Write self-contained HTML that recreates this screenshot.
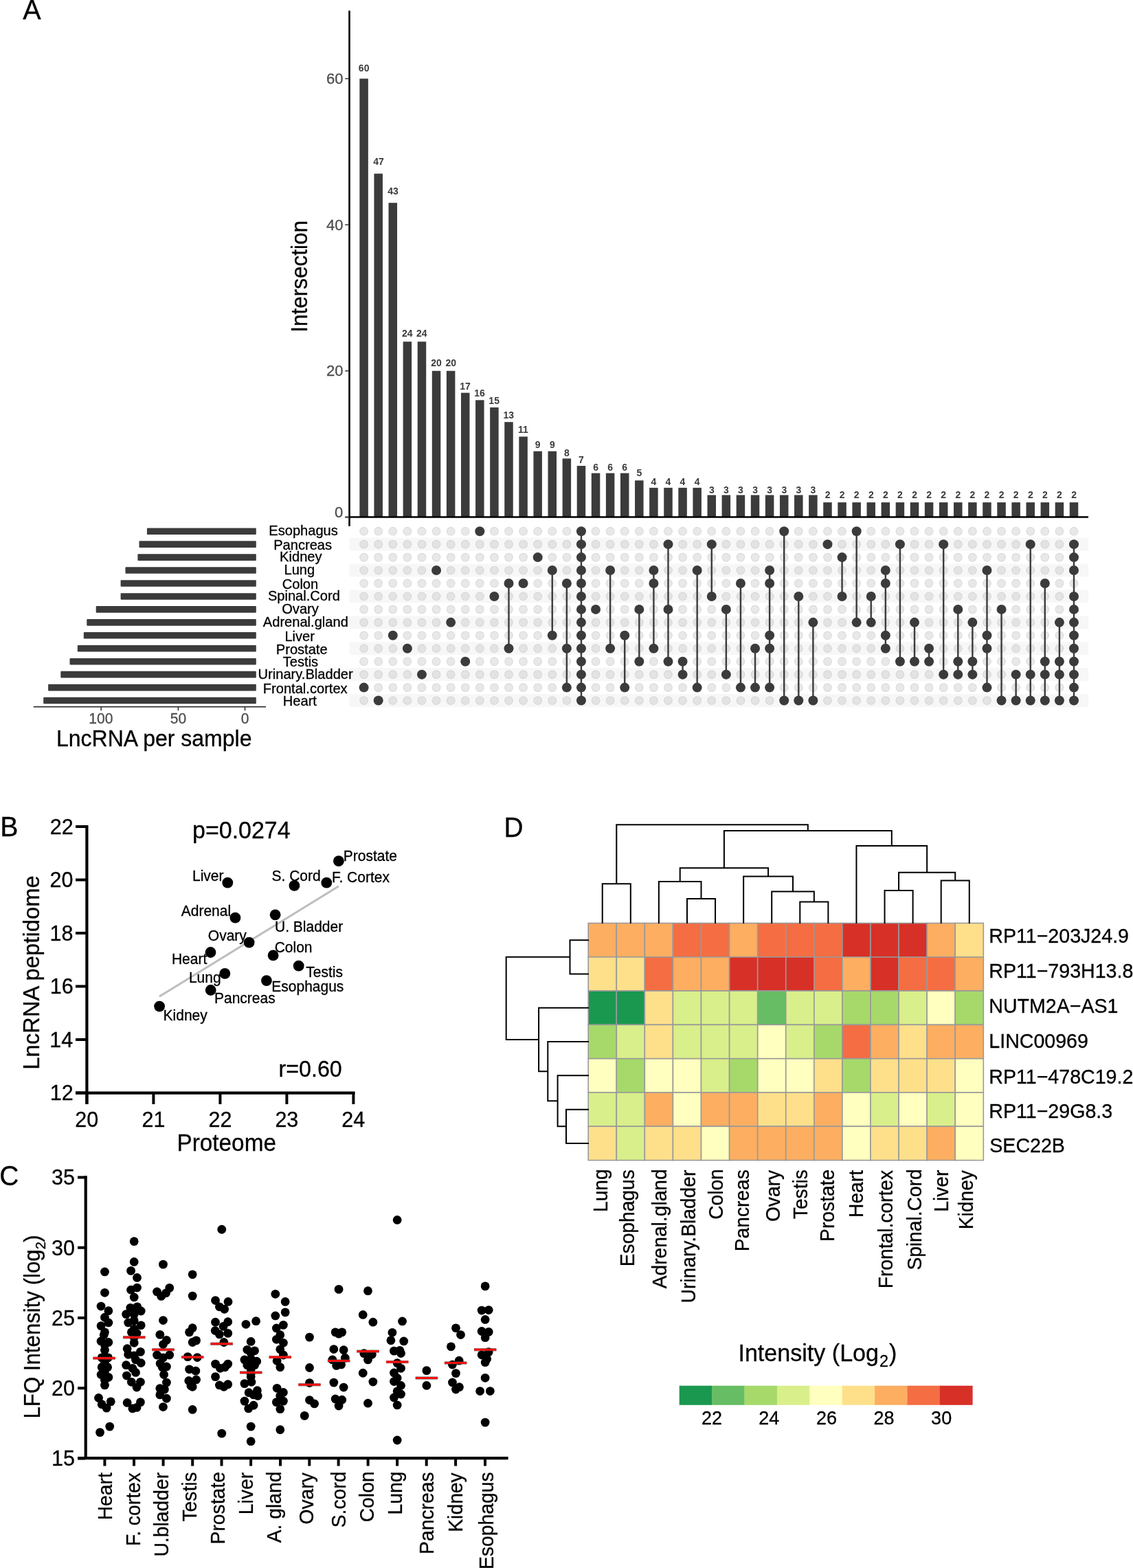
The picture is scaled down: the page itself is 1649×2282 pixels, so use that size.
<!DOCTYPE html>
<html><head><meta charset="utf-8"><title>Figure</title>
<style>html,body{margin:0;padding:0;background:#fff;}svg{display:block;}text{stroke:#000;stroke-width:0.3px;}.g4 text{stroke:#4d4d4d;}.nb text{stroke:none;}</style>
</head><body>
<svg width="1649" height="2282" viewBox="0 0 1649 2282" font-family="'Liberation Sans', Arial, Helvetica, sans-serif">
<rect width="1649" height="2282" fill="#fff"/>
<text transform="translate(33.3,28) scale(1,1.04)" font-size="39.55">A</text>
<g fill="#f7f7f7"><rect x="508.5" y="782.68" width="1075.5" height="18.95"/><rect x="508.5" y="820.58" width="1075.5" height="18.95"/><rect x="508.5" y="858.48" width="1075.5" height="18.95"/><rect x="508.5" y="896.38" width="1075.5" height="18.95"/><rect x="508.5" y="934.27" width="1075.5" height="18.95"/><rect x="508.5" y="972.18" width="1075.5" height="18.95"/><rect x="508.5" y="1010.08" width="1075.5" height="18.95"/></g>
<g fill="#3b3b3b"><rect x="523.35" y="114.48" width="12.5" height="637.92"/><rect x="544.44" y="252.7" width="12.5" height="499.7"/><rect x="565.53" y="295.22" width="12.5" height="457.18"/><rect x="586.62" y="497.23" width="12.5" height="255.17"/><rect x="607.71" y="497.23" width="12.5" height="255.17"/><rect x="628.8" y="539.76" width="12.5" height="212.64"/><rect x="649.89" y="539.76" width="12.5" height="212.64"/><rect x="670.98" y="571.66" width="12.5" height="180.74"/><rect x="692.07" y="582.29" width="12.5" height="170.11"/><rect x="713.16" y="592.92" width="12.5" height="159.48"/><rect x="734.25" y="614.18" width="12.5" height="138.22"/><rect x="755.34" y="635.45" width="12.5" height="116.95"/><rect x="776.43" y="656.71" width="12.5" height="95.69"/><rect x="797.52" y="656.71" width="12.5" height="95.69"/><rect x="818.61" y="667.34" width="12.5" height="85.06"/><rect x="839.7" y="677.98" width="12.5" height="74.42"/><rect x="860.79" y="688.61" width="12.5" height="63.79"/><rect x="881.88" y="688.61" width="12.5" height="63.79"/><rect x="902.97" y="688.61" width="12.5" height="63.79"/><rect x="924.06" y="699.24" width="12.5" height="53.16"/><rect x="945.15" y="709.87" width="12.5" height="42.53"/><rect x="966.24" y="709.87" width="12.5" height="42.53"/><rect x="987.33" y="709.87" width="12.5" height="42.53"/><rect x="1008.42" y="709.87" width="12.5" height="42.53"/><rect x="1029.51" y="720.5" width="12.5" height="31.9"/><rect x="1050.6" y="720.5" width="12.5" height="31.9"/><rect x="1071.69" y="720.5" width="12.5" height="31.9"/><rect x="1092.78" y="720.5" width="12.5" height="31.9"/><rect x="1113.87" y="720.5" width="12.5" height="31.9"/><rect x="1134.96" y="720.5" width="12.5" height="31.9"/><rect x="1156.05" y="720.5" width="12.5" height="31.9"/><rect x="1177.14" y="720.5" width="12.5" height="31.9"/><rect x="1198.23" y="731.14" width="12.5" height="21.26"/><rect x="1219.32" y="731.14" width="12.5" height="21.26"/><rect x="1240.41" y="731.14" width="12.5" height="21.26"/><rect x="1261.5" y="731.14" width="12.5" height="21.26"/><rect x="1282.59" y="731.14" width="12.5" height="21.26"/><rect x="1303.68" y="731.14" width="12.5" height="21.26"/><rect x="1324.77" y="731.14" width="12.5" height="21.26"/><rect x="1345.86" y="731.14" width="12.5" height="21.26"/><rect x="1366.95" y="731.14" width="12.5" height="21.26"/><rect x="1388.04" y="731.14" width="12.5" height="21.26"/><rect x="1409.13" y="731.14" width="12.5" height="21.26"/><rect x="1430.22" y="731.14" width="12.5" height="21.26"/><rect x="1451.31" y="731.14" width="12.5" height="21.26"/><rect x="1472.4" y="731.14" width="12.5" height="21.26"/><rect x="1493.49" y="731.14" width="12.5" height="21.26"/><rect x="1514.58" y="731.14" width="12.5" height="21.26"/><rect x="1535.67" y="731.14" width="12.5" height="21.26"/><rect x="1556.76" y="731.14" width="12.5" height="21.26"/></g>
<g class="nb" fill="#3b3b3b"><text transform="translate(521.87,103.6) scale(1,1.04)" font-size="14" font-weight="bold">60</text><text transform="translate(543.13,240) scale(1,1.04)" font-size="14" font-weight="bold">47</text><text transform="translate(564.15,283.1) scale(1,1.04)" font-size="14" font-weight="bold">43</text><text transform="translate(584.89,489.7) scale(1,1.04)" font-size="14" font-weight="bold">24</text><text transform="translate(605.98,489.7) scale(1,1.04)" font-size="14" font-weight="bold">24</text><text transform="translate(627.32,533) scale(1,1.04)" font-size="14" font-weight="bold">20</text><text transform="translate(648.4,533) scale(1,1.04)" font-size="14" font-weight="bold">20</text><text transform="translate(669.32,566.5) scale(1,1.04)" font-size="14" font-weight="bold">17</text><text transform="translate(690.34,576.5) scale(1,1.04)" font-size="14" font-weight="bold">16</text><text transform="translate(711.36,587.5) scale(1,1.04)" font-size="14" font-weight="bold">15</text><text transform="translate(732.52,608.7) scale(1,1.04)" font-size="14" font-weight="bold">13</text><text transform="translate(753.93,630.2) scale(1,1.04)" font-size="14" font-weight="bold">11</text><text transform="translate(778.8,652.2) scale(1,1.04)" font-size="14" font-weight="bold">9</text><text transform="translate(799.88,652.2) scale(1,1.04)" font-size="14" font-weight="bold">9</text><text transform="translate(820.98,663.8) scale(1,1.04)" font-size="14" font-weight="bold">8</text><text transform="translate(842.07,674.1) scale(1,1.04)" font-size="14" font-weight="bold">7</text><text transform="translate(863.15,684.6) scale(1,1.04)" font-size="14" font-weight="bold">6</text><text transform="translate(884.25,684.6) scale(1,1.04)" font-size="14" font-weight="bold">6</text><text transform="translate(905.34,684.6) scale(1,1.04)" font-size="14" font-weight="bold">6</text><text transform="translate(926.39,693.1) scale(1,1.04)" font-size="14" font-weight="bold">5</text><text transform="translate(947.45,706) scale(1,1.04)" font-size="14" font-weight="bold">4</text><text transform="translate(968.53,706) scale(1,1.04)" font-size="14" font-weight="bold">4</text><text transform="translate(989.62,706) scale(1,1.04)" font-size="14" font-weight="bold">4</text><text transform="translate(1010.72,706) scale(1,1.04)" font-size="14" font-weight="bold">4</text><text transform="translate(1031.94,717.5) scale(1,1.04)" font-size="14" font-weight="bold">3</text><text transform="translate(1053.03,717.5) scale(1,1.04)" font-size="14" font-weight="bold">3</text><text transform="translate(1074.12,717.5) scale(1,1.04)" font-size="14" font-weight="bold">3</text><text transform="translate(1095.21,717.5) scale(1,1.04)" font-size="14" font-weight="bold">3</text><text transform="translate(1116.3,717.5) scale(1,1.04)" font-size="14" font-weight="bold">3</text><text transform="translate(1137.39,717.5) scale(1,1.04)" font-size="14" font-weight="bold">3</text><text transform="translate(1158.49,717.5) scale(1,1.04)" font-size="14" font-weight="bold">3</text><text transform="translate(1179.57,717.5) scale(1,1.04)" font-size="14" font-weight="bold">3</text><text transform="translate(1200.63,725.4) scale(1,1.04)" font-size="14" font-weight="bold">2</text><text transform="translate(1221.72,725.4) scale(1,1.04)" font-size="14" font-weight="bold">2</text><text transform="translate(1242.81,725.4) scale(1,1.04)" font-size="14" font-weight="bold">2</text><text transform="translate(1263.9,725.4) scale(1,1.04)" font-size="14" font-weight="bold">2</text><text transform="translate(1284.99,725.4) scale(1,1.04)" font-size="14" font-weight="bold">2</text><text transform="translate(1306.08,725.4) scale(1,1.04)" font-size="14" font-weight="bold">2</text><text transform="translate(1327.17,725.4) scale(1,1.04)" font-size="14" font-weight="bold">2</text><text transform="translate(1348.26,725.4) scale(1,1.04)" font-size="14" font-weight="bold">2</text><text transform="translate(1369.35,725.4) scale(1,1.04)" font-size="14" font-weight="bold">2</text><text transform="translate(1390.44,725.4) scale(1,1.04)" font-size="14" font-weight="bold">2</text><text transform="translate(1411.53,725.4) scale(1,1.04)" font-size="14" font-weight="bold">2</text><text transform="translate(1432.62,725.4) scale(1,1.04)" font-size="14" font-weight="bold">2</text><text transform="translate(1453.71,725.4) scale(1,1.04)" font-size="14" font-weight="bold">2</text><text transform="translate(1474.8,725.4) scale(1,1.04)" font-size="14" font-weight="bold">2</text><text transform="translate(1495.89,725.4) scale(1,1.04)" font-size="14" font-weight="bold">2</text><text transform="translate(1516.98,725.4) scale(1,1.04)" font-size="14" font-weight="bold">2</text><text transform="translate(1538.07,725.4) scale(1,1.04)" font-size="14" font-weight="bold">2</text><text transform="translate(1559.16,725.4) scale(1,1.04)" font-size="14" font-weight="bold">2</text></g>
<line x1="508.5" y1="15.5" x2="508.5" y2="765.8" stroke="#000" stroke-width="2.6"/>
<line x1="507.2" y1="752.5" x2="1584" y2="752.5" stroke="#000" stroke-width="2.5"/>
<g stroke="#333" stroke-width="1.5"><line x1="502.2" y1="539.76" x2="508" y2="539.76"/><line x1="502.2" y1="327.12" x2="508" y2="327.12"/><line x1="502.2" y1="114.48" x2="508" y2="114.48"/></g>
<line x1="502.2" y1="752.6" x2="508" y2="752.6" stroke="#444" stroke-width="2.4"/>
<g class="g4" fill="#4d4d4d"><text transform="translate(474.96,547.36) scale(1,1.04)" font-size="22">20</text><text transform="translate(474.96,334.72) scale(1,1.04)" font-size="22">40</text><text transform="translate(474.96,122.08) scale(1,1.04)" font-size="22">60</text><text transform="translate(486.97,753.3) scale(1,1.04)" font-size="22">0</text></g>
<text transform="translate(447.4,483.83) rotate(-90) scale(1,1.04)" font-size="31.5">Intersection</text>
<g fill="#e8e8e8" stroke="#dcdcdc" stroke-width="1.2"><circle cx="529.6" cy="773.2" r="5.8"/><circle cx="529.6" cy="811.1" r="5.8"/><circle cx="529.6" cy="849" r="5.8"/><circle cx="529.6" cy="886.9" r="5.8"/><circle cx="529.6" cy="924.8" r="5.8"/><circle cx="529.6" cy="962.7" r="5.8"/><circle cx="550.69" cy="773.2" r="5.8"/><circle cx="550.69" cy="811.1" r="5.8"/><circle cx="550.69" cy="849" r="5.8"/><circle cx="550.69" cy="886.9" r="5.8"/><circle cx="550.69" cy="924.8" r="5.8"/><circle cx="550.69" cy="962.7" r="5.8"/><circle cx="550.69" cy="1000.6" r="5.8"/><circle cx="571.78" cy="773.2" r="5.8"/><circle cx="571.78" cy="811.1" r="5.8"/><circle cx="571.78" cy="849" r="5.8"/><circle cx="571.78" cy="886.9" r="5.8"/><circle cx="571.78" cy="962.7" r="5.8"/><circle cx="571.78" cy="1000.6" r="5.8"/><circle cx="592.87" cy="773.2" r="5.8"/><circle cx="592.87" cy="811.1" r="5.8"/><circle cx="592.87" cy="849" r="5.8"/><circle cx="592.87" cy="886.9" r="5.8"/><circle cx="592.87" cy="924.8" r="5.8"/><circle cx="592.87" cy="962.7" r="5.8"/><circle cx="592.87" cy="1000.6" r="5.8"/><circle cx="613.96" cy="773.2" r="5.8"/><circle cx="613.96" cy="811.1" r="5.8"/><circle cx="613.96" cy="849" r="5.8"/><circle cx="613.96" cy="886.9" r="5.8"/><circle cx="613.96" cy="924.8" r="5.8"/><circle cx="613.96" cy="962.7" r="5.8"/><circle cx="613.96" cy="1000.6" r="5.8"/><circle cx="635.05" cy="773.2" r="5.8"/><circle cx="635.05" cy="811.1" r="5.8"/><circle cx="635.05" cy="849" r="5.8"/><circle cx="635.05" cy="886.9" r="5.8"/><circle cx="635.05" cy="924.8" r="5.8"/><circle cx="635.05" cy="962.7" r="5.8"/><circle cx="635.05" cy="1000.6" r="5.8"/><circle cx="656.14" cy="773.2" r="5.8"/><circle cx="656.14" cy="811.1" r="5.8"/><circle cx="656.14" cy="849" r="5.8"/><circle cx="656.14" cy="886.9" r="5.8"/><circle cx="656.14" cy="924.8" r="5.8"/><circle cx="656.14" cy="962.7" r="5.8"/><circle cx="656.14" cy="1000.6" r="5.8"/><circle cx="677.23" cy="773.2" r="5.8"/><circle cx="677.23" cy="811.1" r="5.8"/><circle cx="677.23" cy="849" r="5.8"/><circle cx="677.23" cy="886.9" r="5.8"/><circle cx="677.23" cy="924.8" r="5.8"/><circle cx="677.23" cy="1000.6" r="5.8"/><circle cx="698.32" cy="811.1" r="5.8"/><circle cx="698.32" cy="849" r="5.8"/><circle cx="698.32" cy="886.9" r="5.8"/><circle cx="698.32" cy="924.8" r="5.8"/><circle cx="698.32" cy="962.7" r="5.8"/><circle cx="698.32" cy="1000.6" r="5.8"/><circle cx="719.41" cy="773.2" r="5.8"/><circle cx="719.41" cy="811.1" r="5.8"/><circle cx="719.41" cy="849" r="5.8"/><circle cx="719.41" cy="886.9" r="5.8"/><circle cx="719.41" cy="924.8" r="5.8"/><circle cx="719.41" cy="962.7" r="5.8"/><circle cx="719.41" cy="1000.6" r="5.8"/><circle cx="740.5" cy="773.2" r="5.8"/><circle cx="740.5" cy="811.1" r="5.8"/><circle cx="740.5" cy="886.9" r="5.8"/><circle cx="740.5" cy="924.8" r="5.8"/><circle cx="740.5" cy="962.7" r="5.8"/><circle cx="740.5" cy="1000.6" r="5.8"/><circle cx="761.59" cy="773.2" r="5.8"/><circle cx="761.59" cy="811.1" r="5.8"/><circle cx="761.59" cy="886.9" r="5.8"/><circle cx="761.59" cy="924.8" r="5.8"/><circle cx="761.59" cy="962.7" r="5.8"/><circle cx="761.59" cy="1000.6" r="5.8"/><circle cx="782.68" cy="773.2" r="5.8"/><circle cx="782.68" cy="849" r="5.8"/><circle cx="782.68" cy="886.9" r="5.8"/><circle cx="782.68" cy="924.8" r="5.8"/><circle cx="782.68" cy="962.7" r="5.8"/><circle cx="782.68" cy="1000.6" r="5.8"/><circle cx="803.77" cy="773.2" r="5.8"/><circle cx="803.77" cy="811.1" r="5.8"/><circle cx="803.77" cy="849" r="5.8"/><circle cx="803.77" cy="886.9" r="5.8"/><circle cx="803.77" cy="962.7" r="5.8"/><circle cx="803.77" cy="1000.6" r="5.8"/><circle cx="824.86" cy="773.2" r="5.8"/><circle cx="824.86" cy="811.1" r="5.8"/><circle cx="824.86" cy="886.9" r="5.8"/><circle cx="824.86" cy="924.8" r="5.8"/><circle cx="824.86" cy="962.7" r="5.8"/><circle cx="867.04" cy="773.2" r="5.8"/><circle cx="867.04" cy="811.1" r="5.8"/><circle cx="867.04" cy="849" r="5.8"/><circle cx="867.04" cy="924.8" r="5.8"/><circle cx="867.04" cy="962.7" r="5.8"/><circle cx="867.04" cy="1000.6" r="5.8"/><circle cx="888.13" cy="773.2" r="5.8"/><circle cx="888.13" cy="811.1" r="5.8"/><circle cx="888.13" cy="849" r="5.8"/><circle cx="888.13" cy="886.9" r="5.8"/><circle cx="888.13" cy="924.8" r="5.8"/><circle cx="888.13" cy="962.7" r="5.8"/><circle cx="888.13" cy="1000.6" r="5.8"/><circle cx="909.22" cy="773.2" r="5.8"/><circle cx="909.22" cy="811.1" r="5.8"/><circle cx="909.22" cy="849" r="5.8"/><circle cx="909.22" cy="886.9" r="5.8"/><circle cx="909.22" cy="962.7" r="5.8"/><circle cx="930.31" cy="773.2" r="5.8"/><circle cx="930.31" cy="811.1" r="5.8"/><circle cx="930.31" cy="849" r="5.8"/><circle cx="930.31" cy="924.8" r="5.8"/><circle cx="930.31" cy="1000.6" r="5.8"/><circle cx="951.4" cy="773.2" r="5.8"/><circle cx="951.4" cy="811.1" r="5.8"/><circle cx="951.4" cy="886.9" r="5.8"/><circle cx="951.4" cy="924.8" r="5.8"/><circle cx="951.4" cy="962.7" r="5.8"/><circle cx="951.4" cy="1000.6" r="5.8"/><circle cx="972.49" cy="773.2" r="5.8"/><circle cx="972.49" cy="811.1" r="5.8"/><circle cx="972.49" cy="849" r="5.8"/><circle cx="972.49" cy="924.8" r="5.8"/><circle cx="972.49" cy="1000.6" r="5.8"/><circle cx="993.58" cy="773.2" r="5.8"/><circle cx="993.58" cy="811.1" r="5.8"/><circle cx="993.58" cy="849" r="5.8"/><circle cx="993.58" cy="886.9" r="5.8"/><circle cx="993.58" cy="924.8" r="5.8"/><circle cx="993.58" cy="1000.6" r="5.8"/><circle cx="1014.67" cy="773.2" r="5.8"/><circle cx="1014.67" cy="811.1" r="5.8"/><circle cx="1014.67" cy="849" r="5.8"/><circle cx="1014.67" cy="886.9" r="5.8"/><circle cx="1014.67" cy="924.8" r="5.8"/><circle cx="1014.67" cy="962.7" r="5.8"/><circle cx="1035.76" cy="773.2" r="5.8"/><circle cx="1035.76" cy="811.1" r="5.8"/><circle cx="1035.76" cy="849" r="5.8"/><circle cx="1035.76" cy="886.9" r="5.8"/><circle cx="1035.76" cy="924.8" r="5.8"/><circle cx="1035.76" cy="962.7" r="5.8"/><circle cx="1035.76" cy="1000.6" r="5.8"/><circle cx="1056.85" cy="773.2" r="5.8"/><circle cx="1056.85" cy="811.1" r="5.8"/><circle cx="1056.85" cy="849" r="5.8"/><circle cx="1056.85" cy="924.8" r="5.8"/><circle cx="1056.85" cy="962.7" r="5.8"/><circle cx="1056.85" cy="1000.6" r="5.8"/><circle cx="1077.94" cy="773.2" r="5.8"/><circle cx="1077.94" cy="811.1" r="5.8"/><circle cx="1077.94" cy="886.9" r="5.8"/><circle cx="1077.94" cy="924.8" r="5.8"/><circle cx="1077.94" cy="962.7" r="5.8"/><circle cx="1099.03" cy="773.2" r="5.8"/><circle cx="1099.03" cy="811.1" r="5.8"/><circle cx="1099.03" cy="849" r="5.8"/><circle cx="1099.03" cy="886.9" r="5.8"/><circle cx="1099.03" cy="924.8" r="5.8"/><circle cx="1099.03" cy="962.7" r="5.8"/><circle cx="1120.12" cy="773.2" r="5.8"/><circle cx="1120.12" cy="811.1" r="5.8"/><circle cx="1120.12" cy="886.9" r="5.8"/><circle cx="1120.12" cy="962.7" r="5.8"/><circle cx="1141.21" cy="811.1" r="5.8"/><circle cx="1141.21" cy="849" r="5.8"/><circle cx="1141.21" cy="886.9" r="5.8"/><circle cx="1141.21" cy="924.8" r="5.8"/><circle cx="1141.21" cy="962.7" r="5.8"/><circle cx="1141.21" cy="1000.6" r="5.8"/><circle cx="1162.3" cy="773.2" r="5.8"/><circle cx="1162.3" cy="811.1" r="5.8"/><circle cx="1162.3" cy="849" r="5.8"/><circle cx="1162.3" cy="886.9" r="5.8"/><circle cx="1162.3" cy="924.8" r="5.8"/><circle cx="1162.3" cy="962.7" r="5.8"/><circle cx="1162.3" cy="1000.6" r="5.8"/><circle cx="1183.39" cy="773.2" r="5.8"/><circle cx="1183.39" cy="811.1" r="5.8"/><circle cx="1183.39" cy="849" r="5.8"/><circle cx="1183.39" cy="886.9" r="5.8"/><circle cx="1183.39" cy="924.8" r="5.8"/><circle cx="1183.39" cy="962.7" r="5.8"/><circle cx="1183.39" cy="1000.6" r="5.8"/><circle cx="1204.48" cy="773.2" r="5.8"/><circle cx="1204.48" cy="811.1" r="5.8"/><circle cx="1204.48" cy="849" r="5.8"/><circle cx="1204.48" cy="886.9" r="5.8"/><circle cx="1204.48" cy="924.8" r="5.8"/><circle cx="1204.48" cy="962.7" r="5.8"/><circle cx="1204.48" cy="1000.6" r="5.8"/><circle cx="1225.57" cy="773.2" r="5.8"/><circle cx="1225.57" cy="849" r="5.8"/><circle cx="1225.57" cy="886.9" r="5.8"/><circle cx="1225.57" cy="924.8" r="5.8"/><circle cx="1225.57" cy="962.7" r="5.8"/><circle cx="1225.57" cy="1000.6" r="5.8"/><circle cx="1246.66" cy="811.1" r="5.8"/><circle cx="1246.66" cy="849" r="5.8"/><circle cx="1246.66" cy="886.9" r="5.8"/><circle cx="1246.66" cy="924.8" r="5.8"/><circle cx="1246.66" cy="962.7" r="5.8"/><circle cx="1246.66" cy="1000.6" r="5.8"/><circle cx="1267.75" cy="773.2" r="5.8"/><circle cx="1267.75" cy="811.1" r="5.8"/><circle cx="1267.75" cy="849" r="5.8"/><circle cx="1267.75" cy="886.9" r="5.8"/><circle cx="1267.75" cy="924.8" r="5.8"/><circle cx="1267.75" cy="962.7" r="5.8"/><circle cx="1267.75" cy="1000.6" r="5.8"/><circle cx="1288.84" cy="773.2" r="5.8"/><circle cx="1288.84" cy="811.1" r="5.8"/><circle cx="1288.84" cy="886.9" r="5.8"/><circle cx="1288.84" cy="962.7" r="5.8"/><circle cx="1288.84" cy="1000.6" r="5.8"/><circle cx="1309.93" cy="773.2" r="5.8"/><circle cx="1309.93" cy="811.1" r="5.8"/><circle cx="1309.93" cy="849" r="5.8"/><circle cx="1309.93" cy="886.9" r="5.8"/><circle cx="1309.93" cy="924.8" r="5.8"/><circle cx="1309.93" cy="1000.6" r="5.8"/><circle cx="1331.02" cy="773.2" r="5.8"/><circle cx="1331.02" cy="811.1" r="5.8"/><circle cx="1331.02" cy="849" r="5.8"/><circle cx="1331.02" cy="886.9" r="5.8"/><circle cx="1331.02" cy="924.8" r="5.8"/><circle cx="1331.02" cy="1000.6" r="5.8"/><circle cx="1352.11" cy="773.2" r="5.8"/><circle cx="1352.11" cy="811.1" r="5.8"/><circle cx="1352.11" cy="849" r="5.8"/><circle cx="1352.11" cy="886.9" r="5.8"/><circle cx="1352.11" cy="924.8" r="5.8"/><circle cx="1352.11" cy="1000.6" r="5.8"/><circle cx="1373.2" cy="773.2" r="5.8"/><circle cx="1373.2" cy="811.1" r="5.8"/><circle cx="1373.2" cy="849" r="5.8"/><circle cx="1373.2" cy="886.9" r="5.8"/><circle cx="1373.2" cy="924.8" r="5.8"/><circle cx="1373.2" cy="962.7" r="5.8"/><circle cx="1373.2" cy="1000.6" r="5.8"/><circle cx="1394.29" cy="773.2" r="5.8"/><circle cx="1394.29" cy="811.1" r="5.8"/><circle cx="1394.29" cy="849" r="5.8"/><circle cx="1394.29" cy="924.8" r="5.8"/><circle cx="1394.29" cy="1000.6" r="5.8"/><circle cx="1415.38" cy="773.2" r="5.8"/><circle cx="1415.38" cy="811.1" r="5.8"/><circle cx="1415.38" cy="849" r="5.8"/><circle cx="1415.38" cy="886.9" r="5.8"/><circle cx="1415.38" cy="924.8" r="5.8"/><circle cx="1415.38" cy="1000.6" r="5.8"/><circle cx="1436.47" cy="773.2" r="5.8"/><circle cx="1436.47" cy="811.1" r="5.8"/><circle cx="1436.47" cy="849" r="5.8"/><circle cx="1436.47" cy="886.9" r="5.8"/><circle cx="1436.47" cy="962.7" r="5.8"/><circle cx="1457.56" cy="773.2" r="5.8"/><circle cx="1457.56" cy="811.1" r="5.8"/><circle cx="1457.56" cy="849" r="5.8"/><circle cx="1457.56" cy="924.8" r="5.8"/><circle cx="1457.56" cy="962.7" r="5.8"/><circle cx="1457.56" cy="1000.6" r="5.8"/><circle cx="1478.65" cy="773.2" r="5.8"/><circle cx="1478.65" cy="811.1" r="5.8"/><circle cx="1478.65" cy="849" r="5.8"/><circle cx="1478.65" cy="886.9" r="5.8"/><circle cx="1478.65" cy="924.8" r="5.8"/><circle cx="1478.65" cy="962.7" r="5.8"/><circle cx="1478.65" cy="1000.6" r="5.8"/><circle cx="1499.74" cy="773.2" r="5.8"/><circle cx="1499.74" cy="811.1" r="5.8"/><circle cx="1499.74" cy="849" r="5.8"/><circle cx="1499.74" cy="886.9" r="5.8"/><circle cx="1499.74" cy="924.8" r="5.8"/><circle cx="1499.74" cy="962.7" r="5.8"/><circle cx="1499.74" cy="1000.6" r="5.8"/><circle cx="1520.83" cy="773.2" r="5.8"/><circle cx="1520.83" cy="811.1" r="5.8"/><circle cx="1520.83" cy="886.9" r="5.8"/><circle cx="1520.83" cy="924.8" r="5.8"/><circle cx="1520.83" cy="1000.6" r="5.8"/><circle cx="1541.92" cy="773.2" r="5.8"/><circle cx="1541.92" cy="811.1" r="5.8"/><circle cx="1541.92" cy="849" r="5.8"/><circle cx="1541.92" cy="886.9" r="5.8"/><circle cx="1541.92" cy="924.8" r="5.8"/><circle cx="1541.92" cy="1000.6" r="5.8"/><circle cx="1563.01" cy="773.2" r="5.8"/><circle cx="1563.01" cy="849" r="5.8"/></g>
<g fill="#e3e3e3" stroke="#d8d8d8" stroke-width="1.2"><circle cx="529.6" cy="792.15" r="5.8"/><circle cx="529.6" cy="830.05" r="5.8"/><circle cx="529.6" cy="867.95" r="5.8"/><circle cx="529.6" cy="905.85" r="5.8"/><circle cx="529.6" cy="943.75" r="5.8"/><circle cx="529.6" cy="981.65" r="5.8"/><circle cx="529.6" cy="1019.55" r="5.8"/><circle cx="550.69" cy="792.15" r="5.8"/><circle cx="550.69" cy="830.05" r="5.8"/><circle cx="550.69" cy="867.95" r="5.8"/><circle cx="550.69" cy="905.85" r="5.8"/><circle cx="550.69" cy="943.75" r="5.8"/><circle cx="550.69" cy="981.65" r="5.8"/><circle cx="571.78" cy="792.15" r="5.8"/><circle cx="571.78" cy="830.05" r="5.8"/><circle cx="571.78" cy="867.95" r="5.8"/><circle cx="571.78" cy="905.85" r="5.8"/><circle cx="571.78" cy="943.75" r="5.8"/><circle cx="571.78" cy="981.65" r="5.8"/><circle cx="571.78" cy="1019.55" r="5.8"/><circle cx="592.87" cy="792.15" r="5.8"/><circle cx="592.87" cy="830.05" r="5.8"/><circle cx="592.87" cy="867.95" r="5.8"/><circle cx="592.87" cy="905.85" r="5.8"/><circle cx="592.87" cy="981.65" r="5.8"/><circle cx="592.87" cy="1019.55" r="5.8"/><circle cx="613.96" cy="792.15" r="5.8"/><circle cx="613.96" cy="830.05" r="5.8"/><circle cx="613.96" cy="867.95" r="5.8"/><circle cx="613.96" cy="905.85" r="5.8"/><circle cx="613.96" cy="943.75" r="5.8"/><circle cx="613.96" cy="1019.55" r="5.8"/><circle cx="635.05" cy="792.15" r="5.8"/><circle cx="635.05" cy="867.95" r="5.8"/><circle cx="635.05" cy="905.85" r="5.8"/><circle cx="635.05" cy="943.75" r="5.8"/><circle cx="635.05" cy="981.65" r="5.8"/><circle cx="635.05" cy="1019.55" r="5.8"/><circle cx="656.14" cy="792.15" r="5.8"/><circle cx="656.14" cy="830.05" r="5.8"/><circle cx="656.14" cy="867.95" r="5.8"/><circle cx="656.14" cy="943.75" r="5.8"/><circle cx="656.14" cy="981.65" r="5.8"/><circle cx="656.14" cy="1019.55" r="5.8"/><circle cx="677.23" cy="792.15" r="5.8"/><circle cx="677.23" cy="830.05" r="5.8"/><circle cx="677.23" cy="867.95" r="5.8"/><circle cx="677.23" cy="905.85" r="5.8"/><circle cx="677.23" cy="943.75" r="5.8"/><circle cx="677.23" cy="981.65" r="5.8"/><circle cx="677.23" cy="1019.55" r="5.8"/><circle cx="698.32" cy="792.15" r="5.8"/><circle cx="698.32" cy="830.05" r="5.8"/><circle cx="698.32" cy="867.95" r="5.8"/><circle cx="698.32" cy="905.85" r="5.8"/><circle cx="698.32" cy="943.75" r="5.8"/><circle cx="698.32" cy="981.65" r="5.8"/><circle cx="698.32" cy="1019.55" r="5.8"/><circle cx="719.41" cy="792.15" r="5.8"/><circle cx="719.41" cy="830.05" r="5.8"/><circle cx="719.41" cy="905.85" r="5.8"/><circle cx="719.41" cy="943.75" r="5.8"/><circle cx="719.41" cy="981.65" r="5.8"/><circle cx="719.41" cy="1019.55" r="5.8"/><circle cx="740.5" cy="792.15" r="5.8"/><circle cx="740.5" cy="830.05" r="5.8"/><circle cx="740.5" cy="867.95" r="5.8"/><circle cx="740.5" cy="905.85" r="5.8"/><circle cx="740.5" cy="981.65" r="5.8"/><circle cx="740.5" cy="1019.55" r="5.8"/><circle cx="761.59" cy="792.15" r="5.8"/><circle cx="761.59" cy="830.05" r="5.8"/><circle cx="761.59" cy="867.95" r="5.8"/><circle cx="761.59" cy="905.85" r="5.8"/><circle cx="761.59" cy="943.75" r="5.8"/><circle cx="761.59" cy="981.65" r="5.8"/><circle cx="761.59" cy="1019.55" r="5.8"/><circle cx="782.68" cy="792.15" r="5.8"/><circle cx="782.68" cy="830.05" r="5.8"/><circle cx="782.68" cy="867.95" r="5.8"/><circle cx="782.68" cy="905.85" r="5.8"/><circle cx="782.68" cy="943.75" r="5.8"/><circle cx="782.68" cy="981.65" r="5.8"/><circle cx="782.68" cy="1019.55" r="5.8"/><circle cx="803.77" cy="792.15" r="5.8"/><circle cx="803.77" cy="867.95" r="5.8"/><circle cx="803.77" cy="905.85" r="5.8"/><circle cx="803.77" cy="943.75" r="5.8"/><circle cx="803.77" cy="981.65" r="5.8"/><circle cx="803.77" cy="1019.55" r="5.8"/><circle cx="824.86" cy="792.15" r="5.8"/><circle cx="824.86" cy="830.05" r="5.8"/><circle cx="824.86" cy="867.95" r="5.8"/><circle cx="824.86" cy="905.85" r="5.8"/><circle cx="824.86" cy="981.65" r="5.8"/><circle cx="824.86" cy="1019.55" r="5.8"/><circle cx="867.04" cy="792.15" r="5.8"/><circle cx="867.04" cy="830.05" r="5.8"/><circle cx="867.04" cy="867.95" r="5.8"/><circle cx="867.04" cy="905.85" r="5.8"/><circle cx="867.04" cy="943.75" r="5.8"/><circle cx="867.04" cy="981.65" r="5.8"/><circle cx="867.04" cy="1019.55" r="5.8"/><circle cx="888.13" cy="792.15" r="5.8"/><circle cx="888.13" cy="867.95" r="5.8"/><circle cx="888.13" cy="905.85" r="5.8"/><circle cx="888.13" cy="981.65" r="5.8"/><circle cx="888.13" cy="1019.55" r="5.8"/><circle cx="909.22" cy="792.15" r="5.8"/><circle cx="909.22" cy="830.05" r="5.8"/><circle cx="909.22" cy="867.95" r="5.8"/><circle cx="909.22" cy="905.85" r="5.8"/><circle cx="909.22" cy="943.75" r="5.8"/><circle cx="909.22" cy="981.65" r="5.8"/><circle cx="909.22" cy="1019.55" r="5.8"/><circle cx="930.31" cy="792.15" r="5.8"/><circle cx="930.31" cy="830.05" r="5.8"/><circle cx="930.31" cy="867.95" r="5.8"/><circle cx="930.31" cy="905.85" r="5.8"/><circle cx="930.31" cy="943.75" r="5.8"/><circle cx="930.31" cy="981.65" r="5.8"/><circle cx="930.31" cy="1019.55" r="5.8"/><circle cx="951.4" cy="792.15" r="5.8"/><circle cx="951.4" cy="867.95" r="5.8"/><circle cx="951.4" cy="905.85" r="5.8"/><circle cx="951.4" cy="981.65" r="5.8"/><circle cx="951.4" cy="1019.55" r="5.8"/><circle cx="972.49" cy="830.05" r="5.8"/><circle cx="972.49" cy="867.95" r="5.8"/><circle cx="972.49" cy="905.85" r="5.8"/><circle cx="972.49" cy="943.75" r="5.8"/><circle cx="972.49" cy="981.65" r="5.8"/><circle cx="972.49" cy="1019.55" r="5.8"/><circle cx="993.58" cy="792.15" r="5.8"/><circle cx="993.58" cy="830.05" r="5.8"/><circle cx="993.58" cy="867.95" r="5.8"/><circle cx="993.58" cy="905.85" r="5.8"/><circle cx="993.58" cy="943.75" r="5.8"/><circle cx="993.58" cy="1019.55" r="5.8"/><circle cx="1014.67" cy="792.15" r="5.8"/><circle cx="1014.67" cy="867.95" r="5.8"/><circle cx="1014.67" cy="905.85" r="5.8"/><circle cx="1014.67" cy="943.75" r="5.8"/><circle cx="1014.67" cy="981.65" r="5.8"/><circle cx="1014.67" cy="1019.55" r="5.8"/><circle cx="1035.76" cy="830.05" r="5.8"/><circle cx="1035.76" cy="905.85" r="5.8"/><circle cx="1035.76" cy="943.75" r="5.8"/><circle cx="1035.76" cy="981.65" r="5.8"/><circle cx="1035.76" cy="1019.55" r="5.8"/><circle cx="1056.85" cy="792.15" r="5.8"/><circle cx="1056.85" cy="830.05" r="5.8"/><circle cx="1056.85" cy="867.95" r="5.8"/><circle cx="1056.85" cy="905.85" r="5.8"/><circle cx="1056.85" cy="943.75" r="5.8"/><circle cx="1056.85" cy="1019.55" r="5.8"/><circle cx="1077.94" cy="792.15" r="5.8"/><circle cx="1077.94" cy="830.05" r="5.8"/><circle cx="1077.94" cy="867.95" r="5.8"/><circle cx="1077.94" cy="905.85" r="5.8"/><circle cx="1077.94" cy="943.75" r="5.8"/><circle cx="1077.94" cy="981.65" r="5.8"/><circle cx="1077.94" cy="1019.55" r="5.8"/><circle cx="1099.03" cy="792.15" r="5.8"/><circle cx="1099.03" cy="830.05" r="5.8"/><circle cx="1099.03" cy="867.95" r="5.8"/><circle cx="1099.03" cy="905.85" r="5.8"/><circle cx="1099.03" cy="981.65" r="5.8"/><circle cx="1099.03" cy="1019.55" r="5.8"/><circle cx="1120.12" cy="792.15" r="5.8"/><circle cx="1120.12" cy="867.95" r="5.8"/><circle cx="1120.12" cy="905.85" r="5.8"/><circle cx="1120.12" cy="981.65" r="5.8"/><circle cx="1120.12" cy="1019.55" r="5.8"/><circle cx="1141.21" cy="792.15" r="5.8"/><circle cx="1141.21" cy="830.05" r="5.8"/><circle cx="1141.21" cy="867.95" r="5.8"/><circle cx="1141.21" cy="905.85" r="5.8"/><circle cx="1141.21" cy="943.75" r="5.8"/><circle cx="1141.21" cy="981.65" r="5.8"/><circle cx="1162.3" cy="792.15" r="5.8"/><circle cx="1162.3" cy="830.05" r="5.8"/><circle cx="1162.3" cy="905.85" r="5.8"/><circle cx="1162.3" cy="943.75" r="5.8"/><circle cx="1162.3" cy="981.65" r="5.8"/><circle cx="1183.39" cy="792.15" r="5.8"/><circle cx="1183.39" cy="830.05" r="5.8"/><circle cx="1183.39" cy="867.95" r="5.8"/><circle cx="1183.39" cy="943.75" r="5.8"/><circle cx="1183.39" cy="981.65" r="5.8"/><circle cx="1204.48" cy="830.05" r="5.8"/><circle cx="1204.48" cy="867.95" r="5.8"/><circle cx="1204.48" cy="905.85" r="5.8"/><circle cx="1204.48" cy="943.75" r="5.8"/><circle cx="1204.48" cy="981.65" r="5.8"/><circle cx="1204.48" cy="1019.55" r="5.8"/><circle cx="1225.57" cy="792.15" r="5.8"/><circle cx="1225.57" cy="830.05" r="5.8"/><circle cx="1225.57" cy="905.85" r="5.8"/><circle cx="1225.57" cy="943.75" r="5.8"/><circle cx="1225.57" cy="981.65" r="5.8"/><circle cx="1225.57" cy="1019.55" r="5.8"/><circle cx="1246.66" cy="792.15" r="5.8"/><circle cx="1246.66" cy="830.05" r="5.8"/><circle cx="1246.66" cy="867.95" r="5.8"/><circle cx="1246.66" cy="943.75" r="5.8"/><circle cx="1246.66" cy="981.65" r="5.8"/><circle cx="1246.66" cy="1019.55" r="5.8"/><circle cx="1267.75" cy="792.15" r="5.8"/><circle cx="1267.75" cy="830.05" r="5.8"/><circle cx="1267.75" cy="943.75" r="5.8"/><circle cx="1267.75" cy="981.65" r="5.8"/><circle cx="1267.75" cy="1019.55" r="5.8"/><circle cx="1288.84" cy="792.15" r="5.8"/><circle cx="1288.84" cy="867.95" r="5.8"/><circle cx="1288.84" cy="905.85" r="5.8"/><circle cx="1288.84" cy="981.65" r="5.8"/><circle cx="1288.84" cy="1019.55" r="5.8"/><circle cx="1309.93" cy="830.05" r="5.8"/><circle cx="1309.93" cy="867.95" r="5.8"/><circle cx="1309.93" cy="905.85" r="5.8"/><circle cx="1309.93" cy="943.75" r="5.8"/><circle cx="1309.93" cy="981.65" r="5.8"/><circle cx="1309.93" cy="1019.55" r="5.8"/><circle cx="1331.02" cy="792.15" r="5.8"/><circle cx="1331.02" cy="830.05" r="5.8"/><circle cx="1331.02" cy="867.95" r="5.8"/><circle cx="1331.02" cy="943.75" r="5.8"/><circle cx="1331.02" cy="981.65" r="5.8"/><circle cx="1331.02" cy="1019.55" r="5.8"/><circle cx="1352.11" cy="792.15" r="5.8"/><circle cx="1352.11" cy="830.05" r="5.8"/><circle cx="1352.11" cy="867.95" r="5.8"/><circle cx="1352.11" cy="905.85" r="5.8"/><circle cx="1352.11" cy="981.65" r="5.8"/><circle cx="1352.11" cy="1019.55" r="5.8"/><circle cx="1373.2" cy="830.05" r="5.8"/><circle cx="1373.2" cy="867.95" r="5.8"/><circle cx="1373.2" cy="905.85" r="5.8"/><circle cx="1373.2" cy="943.75" r="5.8"/><circle cx="1373.2" cy="1019.55" r="5.8"/><circle cx="1394.29" cy="792.15" r="5.8"/><circle cx="1394.29" cy="830.05" r="5.8"/><circle cx="1394.29" cy="867.95" r="5.8"/><circle cx="1394.29" cy="905.85" r="5.8"/><circle cx="1394.29" cy="943.75" r="5.8"/><circle cx="1394.29" cy="1019.55" r="5.8"/><circle cx="1415.38" cy="792.15" r="5.8"/><circle cx="1415.38" cy="830.05" r="5.8"/><circle cx="1415.38" cy="867.95" r="5.8"/><circle cx="1415.38" cy="943.75" r="5.8"/><circle cx="1415.38" cy="1019.55" r="5.8"/><circle cx="1436.47" cy="792.15" r="5.8"/><circle cx="1436.47" cy="867.95" r="5.8"/><circle cx="1436.47" cy="905.85" r="5.8"/><circle cx="1436.47" cy="981.65" r="5.8"/><circle cx="1436.47" cy="1019.55" r="5.8"/><circle cx="1457.56" cy="792.15" r="5.8"/><circle cx="1457.56" cy="830.05" r="5.8"/><circle cx="1457.56" cy="867.95" r="5.8"/><circle cx="1457.56" cy="905.85" r="5.8"/><circle cx="1457.56" cy="943.75" r="5.8"/><circle cx="1457.56" cy="981.65" r="5.8"/><circle cx="1478.65" cy="792.15" r="5.8"/><circle cx="1478.65" cy="830.05" r="5.8"/><circle cx="1478.65" cy="867.95" r="5.8"/><circle cx="1478.65" cy="905.85" r="5.8"/><circle cx="1478.65" cy="943.75" r="5.8"/><circle cx="1499.74" cy="830.05" r="5.8"/><circle cx="1499.74" cy="867.95" r="5.8"/><circle cx="1499.74" cy="905.85" r="5.8"/><circle cx="1499.74" cy="943.75" r="5.8"/><circle cx="1520.83" cy="792.15" r="5.8"/><circle cx="1520.83" cy="830.05" r="5.8"/><circle cx="1520.83" cy="867.95" r="5.8"/><circle cx="1520.83" cy="905.85" r="5.8"/><circle cx="1520.83" cy="943.75" r="5.8"/><circle cx="1541.92" cy="792.15" r="5.8"/><circle cx="1541.92" cy="830.05" r="5.8"/><circle cx="1541.92" cy="867.95" r="5.8"/><circle cx="1541.92" cy="943.75" r="5.8"/></g>
<g stroke="#3b3b3b" stroke-width="2.4"><line x1="740.5" y1="849" x2="740.5" y2="943.75"/><line x1="803.77" y1="830.05" x2="803.77" y2="924.8"/><line x1="824.86" y1="849" x2="824.86" y2="1000.6"/><line x1="845.95" y1="773.2" x2="845.95" y2="1019.55"/><line x1="888.13" y1="830.05" x2="888.13" y2="943.75"/><line x1="909.22" y1="924.8" x2="909.22" y2="1000.6"/><line x1="930.31" y1="886.9" x2="930.31" y2="962.7"/><line x1="951.4" y1="830.05" x2="951.4" y2="943.75"/><line x1="972.49" y1="792.15" x2="972.49" y2="962.7"/><line x1="993.58" y1="962.7" x2="993.58" y2="981.65"/><line x1="1014.67" y1="830.05" x2="1014.67" y2="1000.6"/><line x1="1035.76" y1="792.15" x2="1035.76" y2="867.95"/><line x1="1056.85" y1="886.9" x2="1056.85" y2="981.65"/><line x1="1077.94" y1="849" x2="1077.94" y2="1000.6"/><line x1="1099.03" y1="943.75" x2="1099.03" y2="1000.6"/><line x1="1120.12" y1="830.05" x2="1120.12" y2="1000.6"/><line x1="1141.21" y1="773.2" x2="1141.21" y2="1019.55"/><line x1="1162.3" y1="867.95" x2="1162.3" y2="1019.55"/><line x1="1183.39" y1="905.85" x2="1183.39" y2="1019.55"/><line x1="1225.57" y1="811.1" x2="1225.57" y2="867.95"/><line x1="1246.66" y1="773.2" x2="1246.66" y2="905.85"/><line x1="1267.75" y1="867.95" x2="1267.75" y2="905.85"/><line x1="1288.84" y1="830.05" x2="1288.84" y2="943.75"/><line x1="1309.93" y1="792.15" x2="1309.93" y2="962.7"/><line x1="1331.02" y1="905.85" x2="1331.02" y2="962.7"/><line x1="1352.11" y1="943.75" x2="1352.11" y2="962.7"/><line x1="1373.2" y1="792.15" x2="1373.2" y2="981.65"/><line x1="1394.29" y1="886.9" x2="1394.29" y2="981.65"/><line x1="1415.38" y1="905.85" x2="1415.38" y2="981.65"/><line x1="1436.47" y1="830.05" x2="1436.47" y2="1000.6"/><line x1="1457.56" y1="886.9" x2="1457.56" y2="1019.55"/><line x1="1478.65" y1="981.65" x2="1478.65" y2="1019.55"/><line x1="1499.74" y1="792.15" x2="1499.74" y2="1019.55"/><line x1="1520.83" y1="849" x2="1520.83" y2="1019.55"/><line x1="1541.92" y1="905.85" x2="1541.92" y2="1019.55"/><line x1="1563.01" y1="792.15" x2="1563.01" y2="1019.55"/></g>
<g fill="#3b3b3b"><circle cx="529.6" cy="1000.6" r="7"/><circle cx="550.69" cy="1019.55" r="7"/><circle cx="571.78" cy="924.8" r="7"/><circle cx="592.87" cy="943.75" r="7"/><circle cx="613.96" cy="981.65" r="7"/><circle cx="635.05" cy="830.05" r="7"/><circle cx="656.14" cy="905.85" r="7"/><circle cx="677.23" cy="962.7" r="7"/><circle cx="698.32" cy="773.2" r="7"/><circle cx="719.41" cy="867.95" r="7"/><circle cx="740.5" cy="849" r="7"/><circle cx="740.5" cy="943.75" r="7"/><circle cx="761.59" cy="849" r="7"/><circle cx="782.68" cy="811.1" r="7"/><circle cx="803.77" cy="830.05" r="7"/><circle cx="803.77" cy="924.8" r="7"/><circle cx="824.86" cy="849" r="7"/><circle cx="824.86" cy="943.75" r="7"/><circle cx="824.86" cy="1000.6" r="7"/><circle cx="845.95" cy="773.2" r="7"/><circle cx="845.95" cy="792.15" r="7"/><circle cx="845.95" cy="811.1" r="7"/><circle cx="845.95" cy="830.05" r="7"/><circle cx="845.95" cy="849" r="7"/><circle cx="845.95" cy="867.95" r="7"/><circle cx="845.95" cy="886.9" r="7"/><circle cx="845.95" cy="905.85" r="7"/><circle cx="845.95" cy="924.8" r="7"/><circle cx="845.95" cy="943.75" r="7"/><circle cx="845.95" cy="962.7" r="7"/><circle cx="845.95" cy="981.65" r="7"/><circle cx="845.95" cy="1000.6" r="7"/><circle cx="845.95" cy="1019.55" r="7"/><circle cx="867.04" cy="886.9" r="7"/><circle cx="888.13" cy="830.05" r="7"/><circle cx="888.13" cy="943.75" r="7"/><circle cx="909.22" cy="924.8" r="7"/><circle cx="909.22" cy="1000.6" r="7"/><circle cx="930.31" cy="886.9" r="7"/><circle cx="930.31" cy="962.7" r="7"/><circle cx="951.4" cy="830.05" r="7"/><circle cx="951.4" cy="849" r="7"/><circle cx="951.4" cy="943.75" r="7"/><circle cx="972.49" cy="792.15" r="7"/><circle cx="972.49" cy="886.9" r="7"/><circle cx="972.49" cy="962.7" r="7"/><circle cx="993.58" cy="962.7" r="7"/><circle cx="993.58" cy="981.65" r="7"/><circle cx="1014.67" cy="830.05" r="7"/><circle cx="1014.67" cy="1000.6" r="7"/><circle cx="1035.76" cy="792.15" r="7"/><circle cx="1035.76" cy="867.95" r="7"/><circle cx="1056.85" cy="886.9" r="7"/><circle cx="1056.85" cy="981.65" r="7"/><circle cx="1077.94" cy="849" r="7"/><circle cx="1077.94" cy="1000.6" r="7"/><circle cx="1099.03" cy="943.75" r="7"/><circle cx="1099.03" cy="1000.6" r="7"/><circle cx="1120.12" cy="830.05" r="7"/><circle cx="1120.12" cy="849" r="7"/><circle cx="1120.12" cy="924.8" r="7"/><circle cx="1120.12" cy="943.75" r="7"/><circle cx="1120.12" cy="1000.6" r="7"/><circle cx="1141.21" cy="773.2" r="7"/><circle cx="1141.21" cy="1019.55" r="7"/><circle cx="1162.3" cy="867.95" r="7"/><circle cx="1162.3" cy="1019.55" r="7"/><circle cx="1183.39" cy="905.85" r="7"/><circle cx="1183.39" cy="1019.55" r="7"/><circle cx="1204.48" cy="792.15" r="7"/><circle cx="1225.57" cy="811.1" r="7"/><circle cx="1225.57" cy="867.95" r="7"/><circle cx="1246.66" cy="773.2" r="7"/><circle cx="1246.66" cy="905.85" r="7"/><circle cx="1267.75" cy="867.95" r="7"/><circle cx="1267.75" cy="905.85" r="7"/><circle cx="1288.84" cy="830.05" r="7"/><circle cx="1288.84" cy="849" r="7"/><circle cx="1288.84" cy="924.8" r="7"/><circle cx="1288.84" cy="943.75" r="7"/><circle cx="1309.93" cy="792.15" r="7"/><circle cx="1309.93" cy="962.7" r="7"/><circle cx="1331.02" cy="905.85" r="7"/><circle cx="1331.02" cy="962.7" r="7"/><circle cx="1352.11" cy="943.75" r="7"/><circle cx="1352.11" cy="962.7" r="7"/><circle cx="1373.2" cy="792.15" r="7"/><circle cx="1373.2" cy="981.65" r="7"/><circle cx="1394.29" cy="886.9" r="7"/><circle cx="1394.29" cy="962.7" r="7"/><circle cx="1394.29" cy="981.65" r="7"/><circle cx="1415.38" cy="905.85" r="7"/><circle cx="1415.38" cy="962.7" r="7"/><circle cx="1415.38" cy="981.65" r="7"/><circle cx="1436.47" cy="830.05" r="7"/><circle cx="1436.47" cy="924.8" r="7"/><circle cx="1436.47" cy="943.75" r="7"/><circle cx="1436.47" cy="1000.6" r="7"/><circle cx="1457.56" cy="886.9" r="7"/><circle cx="1457.56" cy="1019.55" r="7"/><circle cx="1478.65" cy="981.65" r="7"/><circle cx="1478.65" cy="1019.55" r="7"/><circle cx="1499.74" cy="792.15" r="7"/><circle cx="1499.74" cy="981.65" r="7"/><circle cx="1499.74" cy="1019.55" r="7"/><circle cx="1520.83" cy="849" r="7"/><circle cx="1520.83" cy="962.7" r="7"/><circle cx="1520.83" cy="981.65" r="7"/><circle cx="1520.83" cy="1019.55" r="7"/><circle cx="1541.92" cy="905.85" r="7"/><circle cx="1541.92" cy="962.7" r="7"/><circle cx="1541.92" cy="981.65" r="7"/><circle cx="1541.92" cy="1019.55" r="7"/><circle cx="1563.01" cy="792.15" r="7"/><circle cx="1563.01" cy="811.1" r="7"/><circle cx="1563.01" cy="830.05" r="7"/><circle cx="1563.01" cy="867.95" r="7"/><circle cx="1563.01" cy="886.9" r="7"/><circle cx="1563.01" cy="905.85" r="7"/><circle cx="1563.01" cy="924.8" r="7"/><circle cx="1563.01" cy="943.75" r="7"/><circle cx="1563.01" cy="962.7" r="7"/><circle cx="1563.01" cy="981.65" r="7"/><circle cx="1563.01" cy="1000.6" r="7"/><circle cx="1563.01" cy="1019.55" r="7"/></g>
<g fill="#3b3b3b"><rect x="213.9" y="768.4" width="158.9" height="9.6" rx="1"/><rect x="202.5" y="787.35" width="170.3" height="9.6" rx="1"/><rect x="200.4" y="806.3" width="172.4" height="9.6" rx="1"/><rect x="182.5" y="825.25" width="190.3" height="9.6" rx="1"/><rect x="175.6" y="844.2" width="197.2" height="9.6" rx="1"/><rect x="175.6" y="863.15" width="197.2" height="9.6" rx="1"/><rect x="139.7" y="882.1" width="233.1" height="9.6" rx="1"/><rect x="126.3" y="901.05" width="246.5" height="9.6" rx="1"/><rect x="121.8" y="920" width="251" height="9.6" rx="1"/><rect x="112.8" y="938.95" width="260" height="9.6" rx="1"/><rect x="101.5" y="957.9" width="271.3" height="9.6" rx="1"/><rect x="88.3" y="976.85" width="284.5" height="9.6" rx="1"/><rect x="70.1" y="995.8" width="302.7" height="9.6" rx="1"/><rect x="63.2" y="1014.75" width="309.6" height="9.6" rx="1"/></g>
<line x1="48.8" y1="1028.6" x2="387" y2="1028.6" stroke="#333" stroke-width="1.6"/>
<g stroke="#333" stroke-width="1.6"><line x1="147.2" y1="1028.6" x2="147.2" y2="1034.2"/><line x1="259.4" y1="1028.6" x2="259.4" y2="1034.2"/><line x1="356.5" y1="1028.6" x2="356.5" y2="1034.2"/></g>
<g class="g4" fill="#4d4d4d"><text transform="translate(129.35,1052.7) scale(1,1.04)" font-size="21">100</text><text transform="translate(247.74,1052.7) scale(1,1.04)" font-size="21">50</text><text transform="translate(350.67,1052.7) scale(1,1.04)" font-size="21">0</text></g>
<text transform="translate(82.04,1085.9) scale(1,1.04)" font-size="31.99">LncRNA per sample</text>
<g><text transform="translate(391.29,779.2) scale(1,1.04)" font-size="20.1">Esophagus</text><text transform="translate(398.19,800.1) scale(1,1.04)" font-size="20.1">Pancreas</text><text transform="translate(407.09,817.2) scale(1,1.04)" font-size="20.1">Kidney</text><text transform="translate(413.49,836) scale(1,1.04)" font-size="20.1">Lung</text><text transform="translate(410.69,856.9) scale(1,1.04)" font-size="20.1">Colon</text><text transform="translate(389.9,874.4) scale(1,1.04)" font-size="20.1">Spinal.Cord</text><text transform="translate(410.2,892.8) scale(1,1.04)" font-size="20.1">Ovary</text><text transform="translate(382.8,911.5) scale(1,1.04)" font-size="20.1">Adrenal.gland</text><text transform="translate(414.39,932.7) scale(1,1.04)" font-size="20.1">Liver</text><text transform="translate(401.79,951.6) scale(1,1.04)" font-size="20.1">Prostate</text><text transform="translate(411.8,970.4) scale(1,1.04)" font-size="20.1">Testis</text><text transform="translate(375.59,987.8) scale(1,1.04)" font-size="20.1">Urinary.Bladder</text><text transform="translate(382.79,1008.5) scale(1,1.04)" font-size="20.1">Frontal.cortex</text><text transform="translate(411.79,1027) scale(1,1.04)" font-size="20.1">Heart</text></g>
<text transform="translate(0.26,1216.8) scale(1,1.04)" font-size="39.25">B</text>
<line x1="231.9" y1="1450.3" x2="492.9" y2="1289.8" stroke="#bdbdbd" stroke-width="3"/>
<path d="M126.4,1201 V1607 M110,1590.6 H516.5" stroke="#000" stroke-width="4.2" fill="none"/>
<path d="M110,1590.6H126M110,1513.06H126M110,1435.52H126M110,1357.98H126M110,1280.44H126M110,1202.9H126M126.4,1590V1607M223.4,1590V1607M320.4,1590V1607M417.4,1590V1607M514.4,1590V1607" stroke="#000" stroke-width="4" fill="none"/>
<g><text transform="translate(72.87,1601.4) scale(1,1)" font-size="30.5">12</text><text transform="translate(72.26,1523.86) scale(1,1)" font-size="30.5">14</text><text transform="translate(72.72,1446.32) scale(1,1)" font-size="30.5">16</text><text transform="translate(72.56,1368.78) scale(1,1)" font-size="30.5">18</text><text transform="translate(72.56,1291.24) scale(1,1)" font-size="30.5">20</text><text transform="translate(72.87,1213.7) scale(1,1)" font-size="30.5">22</text><text transform="translate(109.32,1640) scale(1,1)" font-size="30.5">20</text><text transform="translate(206.47,1640) scale(1,1)" font-size="30.5">21</text><text transform="translate(303.47,1640) scale(1,1)" font-size="30.5">22</text><text transform="translate(400.4,1640) scale(1,1)" font-size="30.5">23</text><text transform="translate(497.17,1640) scale(1,1)" font-size="30.5">24</text></g>
<text transform="translate(257.54,1674.9) scale(1,1.04)" font-size="33.3">Proteome</text>
<text transform="translate(57,1556.82) rotate(-90) scale(1,1.04)" font-size="32.8">LncRNA peptidome</text>
<text transform="translate(280.09,1219.9) scale(1,1.04)" font-size="33.93">p=0.0274</text>
<text transform="translate(405.4,1566.6) scale(1,1.04)" font-size="32.27">r=0.60</text>
<g fill="#000"><circle cx="492.9" cy="1253.2" r="7.9"/><circle cx="475.3" cy="1284.7" r="7.9"/><circle cx="428.4" cy="1288.9" r="7.9"/><circle cx="331.3" cy="1284.7" r="7.9"/><circle cx="342.4" cy="1335.7" r="7.9"/><circle cx="400.6" cy="1331.3" r="7.9"/><circle cx="362.6" cy="1371.7" r="7.9"/><circle cx="306.5" cy="1386" r="7.9"/><circle cx="397.6" cy="1390.4" r="7.9"/><circle cx="434.7" cy="1405.7" r="7.9"/><circle cx="327.3" cy="1416.9" r="7.9"/><circle cx="387.9" cy="1427.1" r="7.9"/><circle cx="306.7" cy="1441" r="7.9"/><circle cx="232.1" cy="1464.6" r="7.9"/></g>
<g><text transform="translate(499.82,1252.5) scale(1,1.04)" font-size="21">Prostate</text><text transform="translate(482.92,1283.8) scale(1,1.04)" font-size="21">F. Cortex</text><text transform="translate(395.56,1281.5) scale(1,1.04)" font-size="21">S. Cord</text><text transform="translate(280.02,1281.5) scale(1,1.04)" font-size="21">Liver</text><text transform="translate(263.8,1332.7) scale(1,1.04)" font-size="21">Adrenal</text><text transform="translate(400.03,1356.4) scale(1,1.04)" font-size="21">U. Bladder</text><text transform="translate(302.86,1368.7) scale(1,1.04)" font-size="21">Ovary</text><text transform="translate(249.92,1402.7) scale(1,1.04)" font-size="21">Heart</text><text transform="translate(399.65,1385.8) scale(1,1.04)" font-size="21">Colon</text><text transform="translate(445.28,1422.4) scale(1,1.04)" font-size="21">Testis</text><text transform="translate(274.92,1429.9) scale(1,1.04)" font-size="21">Lung</text><text transform="translate(395.32,1442.8) scale(1,1.04)" font-size="21">Esophagus</text><text transform="translate(312.02,1459.5) scale(1,1.04)" font-size="21">Pancreas</text><text transform="translate(237.62,1485) scale(1,1.04)" font-size="21">Kidney</text></g>
<text transform="translate(-0.64,1725.2) scale(1,1.04)" font-size="38.89">C</text>
<path d="M124.7,1711.3 V2124 M113,2122.2 H739.6" stroke="#000" stroke-width="4.2" fill="none"/>
<path d="M113,2122.4H124M113,2020.2H124M113,1918H124M113,1815.8H124M113,1713.6H124M152.4,2121V2133.5M195,2121V2133.5M237.6,2121V2133.5M280.2,2121V2133.5M322.5,2121V2133.5M365.1,2121V2133.5M408,2121V2133.5M450.3,2121V2133.5M492.6,2121V2133.5M535.6,2121V2133.5M578.1,2121V2133.5M620.7,2121V2133.5M663.1,2121V2133.5M706,2121V2133.5" stroke="#000" stroke-width="4" fill="none"/>
<g><text transform="translate(75.06,2133.2) scale(1,1)" font-size="30.5">15</text><text transform="translate(75.06,2031) scale(1,1)" font-size="30.5">20</text><text transform="translate(75.06,1928.8) scale(1,1)" font-size="30.5">25</text><text transform="translate(75.06,1826.6) scale(1,1)" font-size="30.5">30</text><text transform="translate(75.06,1724.4) scale(1,1)" font-size="30.5">35</text></g>
<g><text transform="translate(163.4,2212.35) rotate(-90) scale(1,1.04)" font-size="28.3">Heart</text><text transform="translate(204,2249.99) rotate(-90) scale(1,1.04)" font-size="28.3">F. cortex</text><text transform="translate(244.7,2265.56) rotate(-90) scale(1,1.04)" font-size="28.3">U.bladder</text><text transform="translate(285.7,2214.62) rotate(-90) scale(1,1.04)" font-size="28.3">Testis</text><text transform="translate(326.6,2247.44) rotate(-90) scale(1,1.04)" font-size="28.3">Prostate</text><text transform="translate(367.8,2204.14) rotate(-90) scale(1,1.04)" font-size="28.3">Liver</text><text transform="translate(408.7,2245.32) rotate(-90) scale(1,1.04)" font-size="28.3">A. gland</text><text transform="translate(455.5,2218.58) rotate(-90) scale(1,1.04)" font-size="28.3">Ovary</text><text transform="translate(502.5,2223.25) rotate(-90) scale(1,1.04)" font-size="28.3">S.cord</text><text transform="translate(543.5,2215.32) rotate(-90) scale(1,1.04)" font-size="28.3">Colon</text><text transform="translate(584.7,2204.43) rotate(-90) scale(1,1.04)" font-size="28.3">Lung</text><text transform="translate(630.9,2261.88) rotate(-90) scale(1,1.04)" font-size="28.3">Pancreas</text><text transform="translate(672.5,2229.76) rotate(-90) scale(1,1.04)" font-size="28.3">Kidney</text><text transform="translate(718.4,2283.95) rotate(-90) scale(1,1.04)" font-size="28.3">Esophagus</text></g>
<text transform="translate(57.6,2064.5) rotate(-90) scale(1,1.04)" font-size="31.2">LFQ Intensity (log<tspan font-size="20" dy="8.5">2</tspan><tspan dx="-0.5" dy="-8.5">)</tspan></text>
<g fill="#000"><circle cx="152.45" cy="1850.94" r="6.4"/><circle cx="152.45" cy="1881.33" r="6.4"/><circle cx="147.05" cy="1901.07" r="6.4"/><circle cx="157.85" cy="1907.7" r="6.4"/><circle cx="152.45" cy="1917.26" r="6.4"/><circle cx="147.05" cy="1929.6" r="6.4"/><circle cx="157.85" cy="1924.97" r="6.4"/><circle cx="151.22" cy="1942.71" r="6.4"/><circle cx="147.05" cy="1951.96" r="6.4"/><circle cx="157.85" cy="1953.5" r="6.4"/><circle cx="152.45" cy="1965.07" r="6.4"/><circle cx="148.13" cy="1975.87" r="6.4"/><circle cx="157.39" cy="1975.87" r="6.4"/><circle cx="152.45" cy="1983.58" r="6.4"/><circle cx="148.13" cy="1989.75" r="6.4"/><circle cx="156.62" cy="1989.75" r="6.4"/><circle cx="152.45" cy="1995.92" r="6.4"/><circle cx="147.05" cy="2000.54" r="6.4"/><circle cx="157.85" cy="2004.4" r="6.4"/><circle cx="152.45" cy="2015.97" r="6.4"/><circle cx="143.51" cy="2034.47" r="6.4"/><circle cx="161.24" cy="2039.87" r="6.4"/><circle cx="148.13" cy="2043.73" r="6.4"/><circle cx="155.07" cy="2049.12" r="6.4"/><circle cx="159.7" cy="2076.11" r="6.4"/><circle cx="145.51" cy="2084.6" r="6.4"/><circle cx="152.45" cy="1938.85" r="6.4"/><circle cx="152.45" cy="1957.36" r="6.4"/><circle cx="152.45" cy="2008.25" r="6.4"/><circle cx="195.17" cy="1806.68" r="6.4"/><circle cx="195.17" cy="1836.45" r="6.4"/><circle cx="190.55" cy="1849.4" r="6.4"/><circle cx="199.49" cy="1859.43" r="6.4"/><circle cx="190.55" cy="1877.16" r="6.4"/><circle cx="199.49" cy="1874.08" r="6.4"/><circle cx="195.17" cy="1887.96" r="6.4"/><circle cx="189.77" cy="1903.38" r="6.4"/><circle cx="199.8" cy="1901.84" r="6.4"/><circle cx="205.2" cy="1908.01" r="6.4"/><circle cx="183.61" cy="1912.63" r="6.4"/><circle cx="186.69" cy="1924.97" r="6.4"/><circle cx="195.17" cy="1921.89" r="6.4"/><circle cx="205.2" cy="1928.83" r="6.4"/><circle cx="191.32" cy="1938.85" r="6.4"/><circle cx="199.03" cy="1940.39" r="6.4"/><circle cx="195.17" cy="1954.28" r="6.4"/><circle cx="185.15" cy="1962.76" r="6.4"/><circle cx="204.43" cy="1967.38" r="6.4"/><circle cx="186.69" cy="1971.24" r="6.4"/><circle cx="197.49" cy="1978.95" r="6.4"/><circle cx="183.61" cy="1986.66" r="6.4"/><circle cx="205.2" cy="1983.58" r="6.4"/><circle cx="192.86" cy="1991.29" r="6.4"/><circle cx="197.49" cy="1997.46" r="6.4"/><circle cx="184.38" cy="2002.09" r="6.4"/><circle cx="191.32" cy="2011.34" r="6.4"/><circle cx="204.43" cy="2011.34" r="6.4"/><circle cx="199.03" cy="2019.05" r="6.4"/><circle cx="185.15" cy="2041.41" r="6.4"/><circle cx="204.43" cy="2040.64" r="6.4"/><circle cx="192.86" cy="2049.9" r="6.4"/><circle cx="199.03" cy="2048.35" r="6.4"/><circle cx="195.17" cy="1934.23" r="6.4"/><circle cx="195.17" cy="1946.56" r="6.4"/><circle cx="195.17" cy="1912.63" r="6.4"/><circle cx="195.17" cy="1972.78" r="6.4"/><circle cx="237.45" cy="1840.15" r="6.4"/><circle cx="228.51" cy="1879.94" r="6.4"/><circle cx="246.71" cy="1874.39" r="6.4"/><circle cx="234.68" cy="1886.42" r="6.4"/><circle cx="241.62" cy="1881.79" r="6.4"/><circle cx="237.45" cy="1921.58" r="6.4"/><circle cx="232.83" cy="1942.4" r="6.4"/><circle cx="242.39" cy="1950.42" r="6.4"/><circle cx="237.45" cy="1956.59" r="6.4"/><circle cx="228.51" cy="1972.01" r="6.4"/><circle cx="246.71" cy="1972.01" r="6.4"/><circle cx="237.45" cy="1975.87" r="6.4"/><circle cx="233.13" cy="1984.35" r="6.4"/><circle cx="242.39" cy="1988.98" r="6.4"/><circle cx="236.22" cy="1989.75" r="6.4"/><circle cx="238.53" cy="2000.54" r="6.4"/><circle cx="242.39" cy="2012.11" r="6.4"/><circle cx="232.83" cy="2020.59" r="6.4"/><circle cx="239.3" cy="2022.13" r="6.4"/><circle cx="232.83" cy="2029.85" r="6.4"/><circle cx="242.39" cy="2035.24" r="6.4"/><circle cx="237.45" cy="2047.58" r="6.4"/><circle cx="280.17" cy="1854.8" r="6.4"/><circle cx="280.17" cy="1886.11" r="6.4"/><circle cx="280.17" cy="1932.68" r="6.4"/><circle cx="275.55" cy="1938.85" r="6.4"/><circle cx="280.17" cy="1953.5" r="6.4"/><circle cx="285.57" cy="1950.88" r="6.4"/><circle cx="273.23" cy="1974.63" r="6.4"/><circle cx="287.11" cy="1975.56" r="6.4"/><circle cx="275.55" cy="1992.83" r="6.4"/><circle cx="284.8" cy="1995.14" r="6.4"/><circle cx="274.77" cy="2009.49" r="6.4"/><circle cx="285.57" cy="2007.95" r="6.4"/><circle cx="280.17" cy="2018.28" r="6.4"/><circle cx="277.86" cy="2016.74" r="6.4"/><circle cx="280.17" cy="2051.44" r="6.4"/><circle cx="322.76" cy="1789.25" r="6.4"/><circle cx="313.51" cy="1892.58" r="6.4"/><circle cx="332.01" cy="1894.44" r="6.4"/><circle cx="319.37" cy="1901.84" r="6.4"/><circle cx="326.62" cy="1905.23" r="6.4"/><circle cx="313.51" cy="1924.2" r="6.4"/><circle cx="331.71" cy="1923.74" r="6.4"/><circle cx="325.07" cy="1930.37" r="6.4"/><circle cx="313.2" cy="1936.54" r="6.4"/><circle cx="319.37" cy="1941.94" r="6.4"/><circle cx="331.71" cy="1940.39" r="6.4"/><circle cx="325.85" cy="1953.5" r="6.4"/><circle cx="313.51" cy="1985.12" r="6.4"/><circle cx="331.71" cy="1985.12" r="6.4"/><circle cx="320.45" cy="1991.29" r="6.4"/><circle cx="327.39" cy="1989.75" r="6.4"/><circle cx="313.51" cy="2003.63" r="6.4"/><circle cx="319.37" cy="2015.97" r="6.4"/><circle cx="331.71" cy="2014.73" r="6.4"/><circle cx="325.85" cy="2018.28" r="6.4"/><circle cx="322.76" cy="2086.14" r="6.4"/><circle cx="357.92" cy="1927.29" r="6.4"/><circle cx="372.58" cy="1922.66" r="6.4"/><circle cx="365.17" cy="1952.42" r="6.4"/><circle cx="359.77" cy="1964.3" r="6.4"/><circle cx="370.57" cy="1965.84" r="6.4"/><circle cx="365.17" cy="1968.93" r="6.4"/><circle cx="355.92" cy="1978.95" r="6.4"/><circle cx="373.66" cy="1981.26" r="6.4"/><circle cx="365.17" cy="1977.41" r="6.4"/><circle cx="359.77" cy="1986.66" r="6.4"/><circle cx="370.57" cy="1986.66" r="6.4"/><circle cx="365.17" cy="1992.83" r="6.4"/><circle cx="365.17" cy="2003.63" r="6.4"/><circle cx="355.92" cy="2013.65" r="6.4"/><circle cx="365.94" cy="2011.34" r="6.4"/><circle cx="362.09" cy="2026.76" r="6.4"/><circle cx="374.43" cy="2023.68" r="6.4"/><circle cx="375.2" cy="2031.39" r="6.4"/><circle cx="369.03" cy="2029.85" r="6.4"/><circle cx="355.92" cy="2039.1" r="6.4"/><circle cx="369.03" cy="2045.27" r="6.4"/><circle cx="361.63" cy="2049.9" r="6.4"/><circle cx="365.17" cy="2076.11" r="6.4"/><circle cx="365.17" cy="2097.71" r="6.4"/><circle cx="365.17" cy="1999" r="6.4"/><circle cx="400.82" cy="1883.33" r="6.4"/><circle cx="415.16" cy="1894.44" r="6.4"/><circle cx="415.16" cy="1909.86" r="6.4"/><circle cx="400.82" cy="1914.95" r="6.4"/><circle cx="412.39" cy="1928.37" r="6.4"/><circle cx="402.36" cy="1932.99" r="6.4"/><circle cx="407.76" cy="1942.71" r="6.4"/><circle cx="402.36" cy="1949.34" r="6.4"/><circle cx="412.39" cy="1954.28" r="6.4"/><circle cx="407.76" cy="1963.84" r="6.4"/><circle cx="412.39" cy="1972.01" r="6.4"/><circle cx="403.13" cy="1980.49" r="6.4"/><circle cx="407.76" cy="1989.75" r="6.4"/><circle cx="403.13" cy="2020.28" r="6.4"/><circle cx="412.39" cy="2026.45" r="6.4"/><circle cx="407.76" cy="2031.39" r="6.4"/><circle cx="402.36" cy="2040.64" r="6.4"/><circle cx="412.39" cy="2039.1" r="6.4"/><circle cx="407.76" cy="2050.67" r="6.4"/><circle cx="407.76" cy="2080.74" r="6.4"/><circle cx="450.48" cy="1946.1" r="6.4"/><circle cx="450.48" cy="1990.52" r="6.4"/><circle cx="450.48" cy="2012.57" r="6.4"/><circle cx="450.48" cy="2037.56" r="6.4"/><circle cx="457.58" cy="2042.95" r="6.4"/><circle cx="443.23" cy="2060.38" r="6.4"/><circle cx="493.07" cy="1876.39" r="6.4"/><circle cx="488.13" cy="1938.85" r="6.4"/><circle cx="497.7" cy="1938.85" r="6.4"/><circle cx="493.07" cy="1941.17" r="6.4"/><circle cx="485.82" cy="1963.53" r="6.4"/><circle cx="500.16" cy="1964.76" r="6.4"/><circle cx="502.32" cy="1976.18" r="6.4"/><circle cx="483.82" cy="1978.95" r="6.4"/><circle cx="489.68" cy="1987.43" r="6.4"/><circle cx="496.62" cy="1985.89" r="6.4"/><circle cx="485.82" cy="2012.11" r="6.4"/><circle cx="500.16" cy="2019.05" r="6.4"/><circle cx="488.13" cy="2036.01" r="6.4"/><circle cx="497.7" cy="2037.25" r="6.4"/><circle cx="493.07" cy="2046.04" r="6.4"/><circle cx="535.48" cy="1878.7" r="6.4"/><circle cx="528.23" cy="1913.41" r="6.4"/><circle cx="542.88" cy="1924.2" r="6.4"/><circle cx="529.77" cy="1969.7" r="6.4"/><circle cx="541.34" cy="1971.24" r="6.4"/><circle cx="535.48" cy="1978.95" r="6.4"/><circle cx="528.23" cy="1998.23" r="6.4"/><circle cx="542.88" cy="2011.03" r="6.4"/><circle cx="535.48" cy="2042.18" r="6.4"/><circle cx="578.15" cy="1775.47" r="6.4"/><circle cx="585.52" cy="1922.92" r="6.4"/><circle cx="570.95" cy="1939.34" r="6.4"/><circle cx="568.93" cy="1950.74" r="6.4"/><circle cx="587.7" cy="1951.91" r="6.4"/><circle cx="573.46" cy="1966.15" r="6.4"/><circle cx="581.84" cy="1965.32" r="6.4"/><circle cx="583.51" cy="1969.5" r="6.4"/><circle cx="578.15" cy="1983.75" r="6.4"/><circle cx="583.51" cy="1991.29" r="6.4"/><circle cx="573.46" cy="1997.99" r="6.4"/><circle cx="578.15" cy="2005.53" r="6.4"/><circle cx="573.46" cy="2010.56" r="6.4"/><circle cx="583.51" cy="2016.42" r="6.4"/><circle cx="578.15" cy="2024.8" r="6.4"/><circle cx="583.51" cy="2028.99" r="6.4"/><circle cx="573.46" cy="2034.01" r="6.4"/><circle cx="578.15" cy="2044.91" r="6.4"/><circle cx="578.15" cy="2096.01" r="6.4"/><circle cx="620.88" cy="1994.64" r="6.4"/><circle cx="620.88" cy="2016.42" r="6.4"/><circle cx="663.46" cy="1932.82" r="6.4"/><circle cx="670.49" cy="1942.53" r="6.4"/><circle cx="656.43" cy="1959.78" r="6.4"/><circle cx="668.15" cy="1980.2" r="6.4"/><circle cx="658.44" cy="1986.06" r="6.4"/><circle cx="663.46" cy="1998.62" r="6.4"/><circle cx="658.44" cy="2012.01" r="6.4"/><circle cx="668.48" cy="2018.71" r="6.4"/><circle cx="663.46" cy="2022.06" r="6.4"/><circle cx="706.15" cy="1871.88" r="6.4"/><circle cx="701.13" cy="1907.04" r="6.4"/><circle cx="711.18" cy="1906.54" r="6.4"/><circle cx="706.15" cy="1920.43" r="6.4"/><circle cx="701.13" cy="1937.51" r="6.4"/><circle cx="711.18" cy="1938.35" r="6.4"/><circle cx="706.15" cy="1946.72" r="6.4"/><circle cx="711.18" cy="1967.65" r="6.4"/><circle cx="701.13" cy="1971.83" r="6.4"/><circle cx="708.66" cy="1977.69" r="6.4"/><circle cx="706.15" cy="1982.71" r="6.4"/><circle cx="706.15" cy="2005.32" r="6.4"/><circle cx="698.62" cy="2024.57" r="6.4"/><circle cx="713.35" cy="2024.57" r="6.4"/><circle cx="706.15" cy="2070.11" r="6.4"/></g>
<path d="M135.4,1976.6H167.8M179,1946.3H211.4M221.3,1964.3H253.7M264,1975.1H296.4M306.4,1955.8H338.8M349,1997.5H381.4M391.6,1975.1H424M434.3,2015.2H466.7M476.9,1980.5H509.3M519.3,1966.6H551.7M562,1982.1H594.4M604.7,2005.5H637.1M646.9,1983.5H679.3M690,1964.3H722.4" stroke="#3a4a4a" stroke-width="4.4" fill="none" opacity="0.6"/>
<path d="M135.4,1976.6H167.8M179,1946.3H211.4M221.3,1964.3H253.7M264,1975.1H296.4M306.4,1955.8H338.8M349,1997.5H381.4M391.6,1975.1H424M434.3,2015.2H466.7M476.9,1980.5H509.3M519.3,1966.6H551.7M562,1982.1H594.4M604.7,2005.5H637.1M646.9,1983.5H679.3M690,1964.3H722.4" stroke="#f50f0f" stroke-width="3.1" fill="none"/>
<text transform="translate(733.39,1217.6) scale(1,1.04)" font-size="38.82">D</text>
<g stroke="#999" stroke-width="1.6"><rect x="856.2" y="1343.5" width="41.08" height="49.3" fill="#fdae61"/><rect x="897.28" y="1343.5" width="41.08" height="49.3" fill="#fdae61"/><rect x="938.36" y="1343.5" width="41.08" height="49.3" fill="#fdae61"/><rect x="979.44" y="1343.5" width="41.08" height="49.3" fill="#f46d43"/><rect x="1020.52" y="1343.5" width="41.08" height="49.3" fill="#f46d43"/><rect x="1061.6" y="1343.5" width="41.08" height="49.3" fill="#fdae61"/><rect x="1102.68" y="1343.5" width="41.08" height="49.3" fill="#f46d43"/><rect x="1143.76" y="1343.5" width="41.08" height="49.3" fill="#f46d43"/><rect x="1184.84" y="1343.5" width="41.08" height="49.3" fill="#f46d43"/><rect x="1225.92" y="1343.5" width="41.08" height="49.3" fill="#d73027"/><rect x="1267" y="1343.5" width="41.08" height="49.3" fill="#d73027"/><rect x="1308.08" y="1343.5" width="41.08" height="49.3" fill="#d73027"/><rect x="1349.16" y="1343.5" width="41.08" height="49.3" fill="#fdae61"/><rect x="1390.24" y="1343.5" width="41.08" height="49.3" fill="#fee08b"/><rect x="856.2" y="1392.8" width="41.08" height="49.3" fill="#fee08b"/><rect x="897.28" y="1392.8" width="41.08" height="49.3" fill="#fee08b"/><rect x="938.36" y="1392.8" width="41.08" height="49.3" fill="#f46d43"/><rect x="979.44" y="1392.8" width="41.08" height="49.3" fill="#fdae61"/><rect x="1020.52" y="1392.8" width="41.08" height="49.3" fill="#fdae61"/><rect x="1061.6" y="1392.8" width="41.08" height="49.3" fill="#d73027"/><rect x="1102.68" y="1392.8" width="41.08" height="49.3" fill="#d73027"/><rect x="1143.76" y="1392.8" width="41.08" height="49.3" fill="#d73027"/><rect x="1184.84" y="1392.8" width="41.08" height="49.3" fill="#f46d43"/><rect x="1225.92" y="1392.8" width="41.08" height="49.3" fill="#fdae61"/><rect x="1267" y="1392.8" width="41.08" height="49.3" fill="#d73027"/><rect x="1308.08" y="1392.8" width="41.08" height="49.3" fill="#f46d43"/><rect x="1349.16" y="1392.8" width="41.08" height="49.3" fill="#f46d43"/><rect x="1390.24" y="1392.8" width="41.08" height="49.3" fill="#fdae61"/><rect x="856.2" y="1442.1" width="41.08" height="49.3" fill="#1a9850"/><rect x="897.28" y="1442.1" width="41.08" height="49.3" fill="#1a9850"/><rect x="938.36" y="1442.1" width="41.08" height="49.3" fill="#fee08b"/><rect x="979.44" y="1442.1" width="41.08" height="49.3" fill="#d9ef8b"/><rect x="1020.52" y="1442.1" width="41.08" height="49.3" fill="#d9ef8b"/><rect x="1061.6" y="1442.1" width="41.08" height="49.3" fill="#d9ef8b"/><rect x="1102.68" y="1442.1" width="41.08" height="49.3" fill="#66bd63"/><rect x="1143.76" y="1442.1" width="41.08" height="49.3" fill="#d9ef8b"/><rect x="1184.84" y="1442.1" width="41.08" height="49.3" fill="#d9ef8b"/><rect x="1225.92" y="1442.1" width="41.08" height="49.3" fill="#a6d96a"/><rect x="1267" y="1442.1" width="41.08" height="49.3" fill="#a6d96a"/><rect x="1308.08" y="1442.1" width="41.08" height="49.3" fill="#d9ef8b"/><rect x="1349.16" y="1442.1" width="41.08" height="49.3" fill="#ffffbf"/><rect x="1390.24" y="1442.1" width="41.08" height="49.3" fill="#a6d96a"/><rect x="856.2" y="1491.4" width="41.08" height="49.3" fill="#a6d96a"/><rect x="897.28" y="1491.4" width="41.08" height="49.3" fill="#d9ef8b"/><rect x="938.36" y="1491.4" width="41.08" height="49.3" fill="#fee08b"/><rect x="979.44" y="1491.4" width="41.08" height="49.3" fill="#d9ef8b"/><rect x="1020.52" y="1491.4" width="41.08" height="49.3" fill="#d9ef8b"/><rect x="1061.6" y="1491.4" width="41.08" height="49.3" fill="#d9ef8b"/><rect x="1102.68" y="1491.4" width="41.08" height="49.3" fill="#ffffbf"/><rect x="1143.76" y="1491.4" width="41.08" height="49.3" fill="#d9ef8b"/><rect x="1184.84" y="1491.4" width="41.08" height="49.3" fill="#a6d96a"/><rect x="1225.92" y="1491.4" width="41.08" height="49.3" fill="#f46d43"/><rect x="1267" y="1491.4" width="41.08" height="49.3" fill="#fdae61"/><rect x="1308.08" y="1491.4" width="41.08" height="49.3" fill="#fee08b"/><rect x="1349.16" y="1491.4" width="41.08" height="49.3" fill="#fdae61"/><rect x="1390.24" y="1491.4" width="41.08" height="49.3" fill="#fdae61"/><rect x="856.2" y="1540.7" width="41.08" height="49.3" fill="#ffffbf"/><rect x="897.28" y="1540.7" width="41.08" height="49.3" fill="#a6d96a"/><rect x="938.36" y="1540.7" width="41.08" height="49.3" fill="#ffffbf"/><rect x="979.44" y="1540.7" width="41.08" height="49.3" fill="#ffffbf"/><rect x="1020.52" y="1540.7" width="41.08" height="49.3" fill="#d9ef8b"/><rect x="1061.6" y="1540.7" width="41.08" height="49.3" fill="#a6d96a"/><rect x="1102.68" y="1540.7" width="41.08" height="49.3" fill="#ffffbf"/><rect x="1143.76" y="1540.7" width="41.08" height="49.3" fill="#ffffbf"/><rect x="1184.84" y="1540.7" width="41.08" height="49.3" fill="#fee08b"/><rect x="1225.92" y="1540.7" width="41.08" height="49.3" fill="#a6d96a"/><rect x="1267" y="1540.7" width="41.08" height="49.3" fill="#fee08b"/><rect x="1308.08" y="1540.7" width="41.08" height="49.3" fill="#fee08b"/><rect x="1349.16" y="1540.7" width="41.08" height="49.3" fill="#fee08b"/><rect x="1390.24" y="1540.7" width="41.08" height="49.3" fill="#ffffbf"/><rect x="856.2" y="1590" width="41.08" height="49.3" fill="#d9ef8b"/><rect x="897.28" y="1590" width="41.08" height="49.3" fill="#d9ef8b"/><rect x="938.36" y="1590" width="41.08" height="49.3" fill="#fdae61"/><rect x="979.44" y="1590" width="41.08" height="49.3" fill="#ffffbf"/><rect x="1020.52" y="1590" width="41.08" height="49.3" fill="#fdae61"/><rect x="1061.6" y="1590" width="41.08" height="49.3" fill="#fdae61"/><rect x="1102.68" y="1590" width="41.08" height="49.3" fill="#fee08b"/><rect x="1143.76" y="1590" width="41.08" height="49.3" fill="#fee08b"/><rect x="1184.84" y="1590" width="41.08" height="49.3" fill="#fdae61"/><rect x="1225.92" y="1590" width="41.08" height="49.3" fill="#ffffbf"/><rect x="1267" y="1590" width="41.08" height="49.3" fill="#d9ef8b"/><rect x="1308.08" y="1590" width="41.08" height="49.3" fill="#ffffbf"/><rect x="1349.16" y="1590" width="41.08" height="49.3" fill="#d9ef8b"/><rect x="1390.24" y="1590" width="41.08" height="49.3" fill="#ffffbf"/><rect x="856.2" y="1639.3" width="41.08" height="49.3" fill="#fee08b"/><rect x="897.28" y="1639.3" width="41.08" height="49.3" fill="#d9ef8b"/><rect x="938.36" y="1639.3" width="41.08" height="49.3" fill="#fee08b"/><rect x="979.44" y="1639.3" width="41.08" height="49.3" fill="#fee08b"/><rect x="1020.52" y="1639.3" width="41.08" height="49.3" fill="#ffffbf"/><rect x="1061.6" y="1639.3" width="41.08" height="49.3" fill="#fdae61"/><rect x="1102.68" y="1639.3" width="41.08" height="49.3" fill="#fdae61"/><rect x="1143.76" y="1639.3" width="41.08" height="49.3" fill="#fdae61"/><rect x="1184.84" y="1639.3" width="41.08" height="49.3" fill="#fdae61"/><rect x="1225.92" y="1639.3" width="41.08" height="49.3" fill="#ffffbf"/><rect x="1267" y="1639.3" width="41.08" height="49.3" fill="#fee08b"/><rect x="1308.08" y="1639.3" width="41.08" height="49.3" fill="#fee08b"/><rect x="1349.16" y="1639.3" width="41.08" height="49.3" fill="#fdae61"/><rect x="1390.24" y="1639.3" width="41.08" height="49.3" fill="#ffffbf"/></g>
<g><text transform="translate(1439.31,1372.2) scale(1,1.04)" font-size="28.6">RP11−203J24.9</text><text transform="translate(1439.31,1422.5) scale(1,1.04)" font-size="28.6">RP11−793H13.8</text><text transform="translate(1439.31,1474.1) scale(1,1.04)" font-size="28.6">NUTM2A−AS1</text><text transform="translate(1439.31,1524.9) scale(1,1.04)" font-size="28.6">LINC00969</text><text transform="translate(1439.31,1576.5) scale(1,1.04)" font-size="28.6">RP11−478C19.2</text><text transform="translate(1439.31,1627.3) scale(1,1.04)" font-size="28.6">RP11−29G8.3</text><text transform="translate(1440.31,1677.3) scale(1,1.04)" font-size="28.6">SEC22B</text></g>
<g><text transform="translate(883.6,1764.01) rotate(-90) scale(1,1.04)" font-size="28.2">Lung</text><text transform="translate(922.6,1843.25) rotate(-90) scale(1,1.04)" font-size="28.2">Esophagus</text><text transform="translate(969.6,1875.26) rotate(-90) scale(1,1.04)" font-size="28.2">Adrenal.gland</text><text transform="translate(1011.7,1896.41) rotate(-90) scale(1,1.04)" font-size="28.2">Urinary.Bladder</text><text transform="translate(1052,1774.87) rotate(-90) scale(1,1.04)" font-size="28.2">Colon</text><text transform="translate(1089.5,1821.26) rotate(-90) scale(1,1.04)" font-size="28.2">Pancreas</text><text transform="translate(1135.3,1778.11) rotate(-90) scale(1,1.04)" font-size="28.2">Ovary</text><text transform="translate(1175.4,1774.16) rotate(-90) scale(1,1.04)" font-size="28.2">Testis</text><text transform="translate(1213.8,1806.88) rotate(-90) scale(1,1.04)" font-size="28.2">Prostate</text><text transform="translate(1255.9,1771.91) rotate(-90) scale(1,1.04)" font-size="28.2">Heart</text><text transform="translate(1298.6,1875.26) rotate(-90) scale(1,1.04)" font-size="28.2">Frontal.cortex</text><text transform="translate(1341.1,1848.61) rotate(-90) scale(1,1.04)" font-size="28.2">Spinal.Cord</text><text transform="translate(1379.5,1763.73) rotate(-90) scale(1,1.04)" font-size="28.2">Liver</text><text transform="translate(1416.1,1789.25) rotate(-90) scale(1,1.04)" font-size="28.2">Kidney</text></g>
<path d="M876.74,1343V1286.3H917.82V1343M999.98,1343V1307.9H1041.06V1343M958.9,1343V1283H1020.52V1307.9M1164.3,1343V1312.6H1205.38V1343M1123.22,1343V1297.6H1184.84V1312.6M1082.14,1343V1275.6H1154.03V1297.6M989.71,1283V1263.2H1118.09V1275.6M1287.54,1343V1296.1H1328.62V1343M1369.7,1343V1281.5H1410.78V1343M1308.08,1296.1V1269.8H1390.24V1281.5M1246.46,1343V1231H1349.16V1269.8M1053.9,1263.2V1209H1297.81V1231M897.28,1286.3V1200.2H1175.85V1209M856,1368.15H829.5V1417.45H856M856,1614.65H824V1663.95H856M856,1565.35H811.6V1639.3H824M856,1516.05H797.3V1602.33H811.6M856,1466.75H784.1V1559.19H797.3M829.5,1392.8H736.7V1512.97H784.1" stroke="#000" stroke-width="2" fill="none" stroke-linecap="square"/>
<text transform="translate(1074.43,1981) scale(1,1.04)" font-size="34.1">Intensity (Log<tspan font-size="23.5" dx="1" dy="7.5">2</tspan><tspan dx="1" dy="-7.5">)</tspan></text>
<rect x="988.7" y="2016.7" width="47.7" height="28.1" fill="#1a9850"/><rect x="1036.1" y="2016.7" width="47.7" height="28.1" fill="#66bd63"/><rect x="1083.5" y="2016.7" width="47.7" height="28.1" fill="#a6d96a"/><rect x="1130.9" y="2016.7" width="47.7" height="28.1" fill="#d9ef8b"/><rect x="1178.3" y="2016.7" width="47.7" height="28.1" fill="#ffffbf"/><rect x="1225.7" y="2016.7" width="47.7" height="28.1" fill="#fee08b"/><rect x="1273.1" y="2016.7" width="47.7" height="28.1" fill="#fdae61"/><rect x="1320.5" y="2016.7" width="47.7" height="28.1" fill="#f46d43"/><rect x="1367.9" y="2016.7" width="47.7" height="28.1" fill="#d73027"/>
<g><text transform="translate(1021.11,2073.4) scale(1,1.04)" font-size="27">22</text><text transform="translate(1104.34,2073.4) scale(1,1.04)" font-size="27">24</text><text transform="translate(1188.05,2073.4) scale(1,1.04)" font-size="27">26</text><text transform="translate(1271.48,2073.4) scale(1,1.04)" font-size="27">28</text><text transform="translate(1355.12,2073.4) scale(1,1.04)" font-size="27">30</text></g>
</svg>
</body></html>
